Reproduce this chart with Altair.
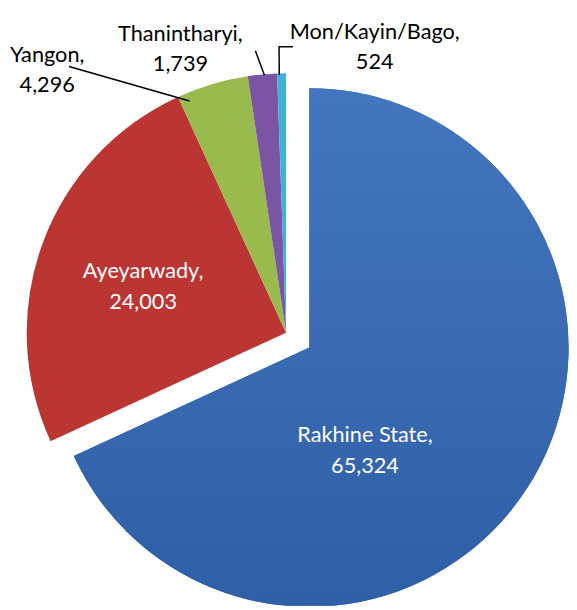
import math
import altair as alt
import pandas as pd

# ---- data ----
regions = ["Rakhine State", "Ayeyarwady", "Yangon", "Thanintharyi", "Mon/Kayin/Bago"]
counts = [65324, 24003, 4296, 1739, 524]
colors = ["#3A6CB3", "#BB3532", "#99BB4E", "#7B55A3", "#40B2D5"]
label_colors = ["#FFFFFF", "#FFFFFF", "#000000", "#000000", "#000000"]

# ---- layout (view coordinates) ----
W, H = 569, 602
CX, CY = 282, 325          # pie centre
R = 263                    # pie radius
EXPLODE = [28, 0, 0, 0, 0] # explode distance per slice
FONT = "Lato"
FS = 22
LINE_H = 31
# label anchor (first baseline), polar: angle deg clockwise from 12 o'clock, radius px
label_polar = [(149.5, 111.3), (290.8, 155.1), (318.6, 366.3), (340.1, 314.7), (16.8, 311.3)]
# leader polylines per slice, polar points
leader_polar = {
    "Yangon": [(337.4, 254.6), (320.8, 348.3)],
    "Thanintharyi": [(355.2, 261.9), (353.8, 287.7)],
    "Mon/Kayin/Bago": [(358.5, 261.1), (358.6, 290.1), (1.38, 290.1)],
}

total = sum(counts)
rows, lab_rows = [], []
cum = 0
for i, (reg, v) in enumerate(zip(regions, counts)):
    mid = (cum + v / 2) / total * 2 * math.pi
    cum += v
    cx = CX + EXPLODE[i] * math.sin(mid)
    cy = CY - EXPLODE[i] * math.cos(mid)
    rows.append({"region": reg, "count": v, "idx": i, "cx": cx, "cy": cy})
    a, r = label_polar[i]
    a = math.radians(a)
    lab_rows.append({
        "region": reg,
        "text": f"{reg},\n{v:,}",
        "x": cx + r * math.sin(a),
        "y": cy - r * math.cos(a),
        "tc": label_colors[i],
    })

df = pd.DataFrame(rows)
dfl = pd.DataFrame(lab_rows)

lead_rows = []
for reg, pts in leader_polar.items():
    for k, (a, r) in enumerate(pts):
        a = math.radians(a)
        lead_rows.append({"region": reg, "k": k,
                          "x": CX + r * math.sin(a), "y": CY - r * math.cos(a)})
dfd = pd.DataFrame(lead_rows)

arc_enc = dict(
    theta=alt.Theta("count:Q", stack=True),
    order=alt.Order("idx:Q"),
    x=alt.X("cx:Q", scale=None),
    y=alt.Y("cy:Q", scale=None),
)

pie = alt.Chart(df).mark_arc(radius=R, clip=True).encode(
    color=alt.Color("region:N", scale=alt.Scale(domain=regions, range=colors), legend=None),
    **arc_enc,
)

# subtle vertical shading on the exploded slice
shade = alt.Chart(df).mark_arc(
    radius=R, clip=True,
    color=alt.Gradient(
        gradient="linear",
        stops=[alt.GradientStop(color="#4376BE", offset=0),
               alt.GradientStop(color="#2F5FA6", offset=1)],
        x1=0, x2=0, y1=0, y2=1,
    ),
).encode(
    opacity=alt.condition(alt.datum.region == regions[0], alt.value(1), alt.value(0)),
    **arc_enc,
)

labels = alt.Chart(dfl).mark_text(
    font=FONT, fontSize=FS, lineBreak="\n", lineHeight=LINE_H,
    align="center", baseline="alphabetic",
).encode(
    x=alt.X("x:Q", scale=None),
    y=alt.Y("y:Q", scale=None),
    text="text:N",
    color=alt.Color("tc:N", scale=None),
)

leaders = alt.Chart(dfd).mark_line(color="black", strokeWidth=1.5).encode(
    x=alt.X("x:Q", scale=None),
    y=alt.Y("y:Q", scale=None),
    detail="region:N",
    order="k:Q",
)

chart = alt.layer(pie, shade, leaders, labels).properties(
    width=W, height=H, padding=0,
    autosize=alt.AutoSizeParams(type="none"),
    background="white",
).configure_view(stroke=None)

chart.save("out.html", embed_options={"renderer": "svg", "actions": False})
